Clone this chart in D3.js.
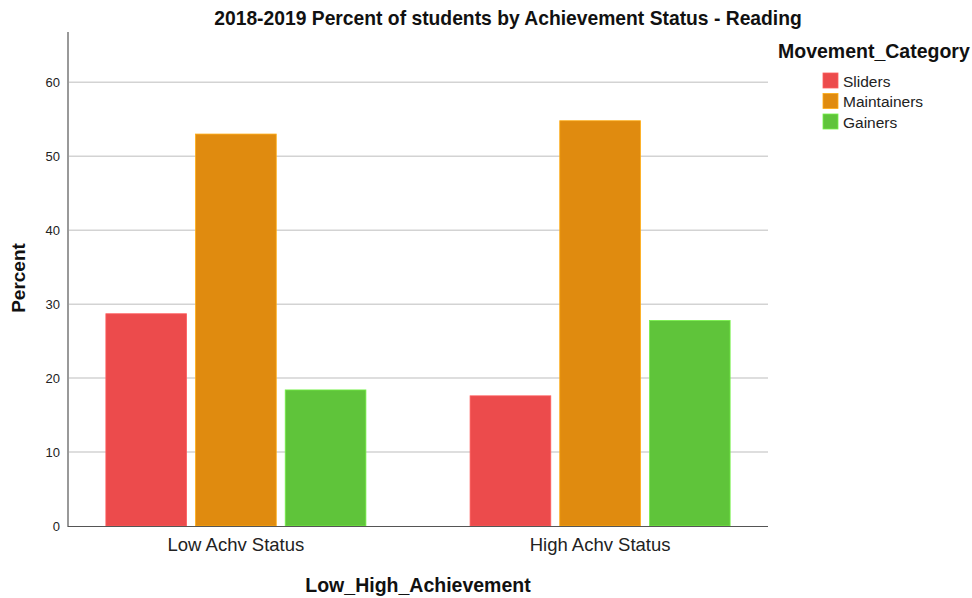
<!DOCTYPE html>
<html>
<head>
<meta charset="utf-8">
<script src="https://cdn.jsdelivr.net/npm/d3@7"></script>
<style>
  body { margin: 0; background: #fff; }
  text { font-family: "Liberation Sans", Arial, sans-serif; }
</style>
</head>
<body>
<svg width="972" height="598"></svg>
<script>
// data
var groups = ["Low Achv Status", "High Achv Status"];
var categories = ["Sliders", "Maintainers", "Gainers"];
var sliders = [28.7, 17.6];
var maintainers = [53.0, 54.8];
var gainers = [18.4, 27.8];
var yTicks = [0, 10, 20, 30, 40, 50, 60];
var colors = ["#ec4b4c", "#e08b0f", "#5fc43a"];

var series = [sliders, maintainers, gainers];
var rows = groups.map(function(g, i) {
  return { group: g, values: categories.map(function(c, j) { return { cat: c, value: series[j][i], idx: j }; }) };
});

var svg = d3.select("svg");
var plotLeft = 68, plotRight = 768, plotTop = 32, plotBottom = 526;

// scales
var x = d3.scaleBand()
  .domain(groups)
  .range([plotLeft, plotRight])
  .paddingInner(0.286)
  .paddingOuter(0.104);

var x1 = d3.scaleBand()
  .domain(categories)
  .range([0, x.bandwidth()])
  .paddingInner(0.1);

var y = d3.scaleLinear()
  .domain([0, 66.8])
  .range([plotBottom, plotTop]);

// gridlines
svg.append("g")
  .selectAll("line")
  .data(yTicks.filter(function(d) { return d > 0; }))
  .enter()
  .append("line")
    .attr("x1", plotLeft)
    .attr("x2", plotRight)
    .attr("y1", function(d) { return y(d); })
    .attr("y2", function(d) { return y(d); })
    .style("stroke", "#d3d3d3")
    .style("stroke-width", 1.5);

// bars
var g = svg.append("g")
  .selectAll("g")
  .data(rows)
  .enter()
  .append("g")
    .attr("transform", function(d) { return "translate(" + x(d.group) + ",0)"; });

g.selectAll("rect")
  .data(function(d) { return d.values; })
  .enter()
  .append("rect")
    .attr("x", function(d) { return x1(d.cat); })
    .attr("y", function(d) { return y(d.value); })
    .attr("width", x1.bandwidth())
    .attr("height", function(d) { return plotBottom - y(d.value); })
    .style("fill", function(d) { return colors[d.idx]; })
    .style("stroke", function(d) { return d3.color(colors[d.idx]).brighter(0.6); })
    .style("stroke-width", 0.8);

// y axis
var yAxis = svg.append("g")
  .attr("transform", "translate(" + plotLeft + ",0)")
  .call(d3.axisLeft(y).tickValues(yTicks).tickSize(0).tickPadding(8));
yAxis.select(".domain").remove();
yAxis.selectAll("text").style("font-size", "13px").style("fill", "#222");
svg.append("line")
  .attr("x1", plotLeft).attr("x2", plotLeft)
  .attr("y1", plotTop).attr("y2", plotBottom + 1)
  .style("stroke", "#999").style("stroke-width", 2);

// x axis
var xAxis = svg.append("g")
  .attr("transform", "translate(0," + plotBottom + ")")
  .call(d3.axisBottom(x).tickSize(0).tickPadding(12));
xAxis.select(".domain").remove();
xAxis.selectAll("text").style("font-size", "18.5px").style("fill", "#222");
svg.append("line")
  .attr("x1", plotLeft).attr("x2", plotRight)
  .attr("y1", plotBottom + 0.5).attr("y2", plotBottom + 0.5)
  .style("stroke", "#555").style("stroke-width", 1);

// title + axis labels
svg.append("text")
  .attr("x", 508).attr("y", 25)
  .attr("text-anchor", "middle")
  .style("font-size", "19.3px").style("font-weight", "bold").style("fill", "#111")
  .text("2018-2019 Percent of students by Achievement Status - Reading");

svg.append("text")
  .attr("transform", "translate(25,278) rotate(-90)")
  .attr("text-anchor", "middle")
  .style("font-size", "19px").style("font-weight", "bold").style("fill", "#111")
  .text("Percent");

svg.append("text")
  .attr("x", 418).attr("y", 592)
  .attr("text-anchor", "middle")
  .style("font-size", "19.5px").style("font-weight", "bold").style("fill", "#111")
  .text("Low_High_Achievement");

// legend
svg.append("text")
  .attr("x", 778).attr("y", 58)
  .style("font-size", "19.5px").style("font-weight", "bold").style("fill", "#111")
  .text("Movement_Category");

var leg = svg.append("g")
  .selectAll("g")
  .data(categories)
  .enter()
  .append("g")
    .attr("transform", function(d, i) { return "translate(823," + (73 + i * 20.5) + ")"; });
leg.append("rect")
  .attr("width", 15).attr("height", 15)
  .style("fill", function(d, i) { return colors[i]; })
  .style("stroke", function(d, i) { return d3.color(colors[i]).brighter(0.6); })
  .style("stroke-width", 0.8);
leg.append("text")
  .attr("x", 20).attr("y", 13.5)
  .style("font-size", "15.5px").style("fill", "#222")
  .text(function(d) { return d; });
</script>
</body>
</html>
